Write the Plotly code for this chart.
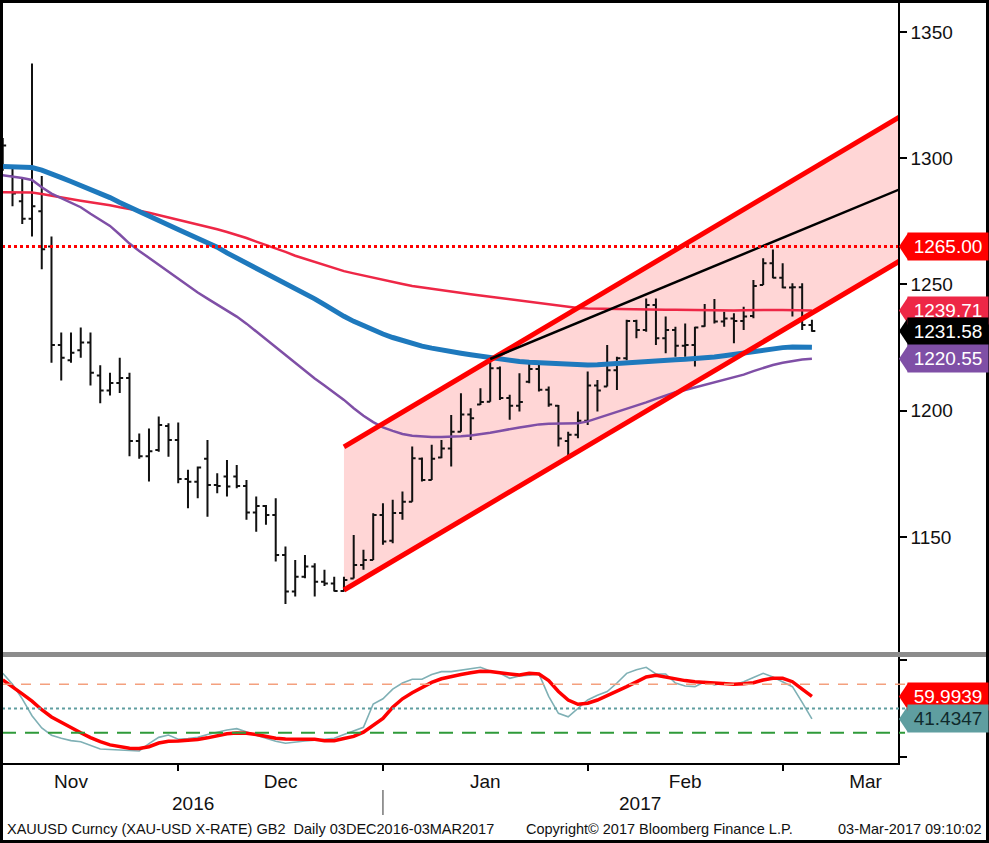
import plotly.graph_objects as go
import pandas as pd

# ---------------- data ----------------
holidays = ["2016-12-26", "2017-01-02"]
dates = [d.strftime("%Y-%m-%d") for d in pd.bdate_range("2016-11-04", "2017-03-03")
         if d.strftime("%Y-%m-%d") not in holidays]
x = list(range(len(dates)))

open_ = [1302, 1293, 1283, 1276, 1279, 1265, 1226, 1220, 1224, 1227, 1214, 1208, 1211, 1213, 1188, 1182, 1184.5, 1194, 1188.4,
         1173, 1171.9, 1181, 1170.6, 1174, 1174, 1170.2, 1159.7, 1162.3, 1158.7, 1142.9, 1128.4, 1134.3, 1138.3, 1132.3, 1131.6, 1128.6, 1133.6, 1138.9, 1140.9, 1158.7,
         1148.5, 1159.5, 1164, 1181, 1172.6, 1181.5, 1185, 1191.7, 1198.5, 1202.5, 1203.6, 1216.8, 1205, 1202, 1211.5, 1216.5, 1208.3, 1202, 1188, 1190.5, 1196,
         1210, 1209.6, 1216, 1220.8, 1235.5, 1232, 1241.9, 1228.7, 1232, 1225.7, 1226, 1233.5, 1239.9, 1235.3, 1236.5, 1235.5, 1237.5, 1249.8, 1258.4, 1252.7,
         1248.8, 1248.9, 1234]
high = [1308, 1297, 1292, 1337.5, 1293, 1269, 1231, 1231, 1233, 1231, 1218, 1215, 1221, 1215, 1191, 1193, 1197.7, 1195, 1195.3,
        1176.6, 1177.9, 1188.4, 1175.2, 1180.5, 1178.5, 1172.6, 1166, 1162.7, 1165.3, 1146.2, 1140.9, 1142.9, 1139.6, 1137, 1134.3, 1134.3, 1150.8, 1144.9, 1159.4, 1163.4,
        1164.7, 1168, 1185.8, 1181.5, 1186.5, 1188.4, 1198.3, 1206.9, 1201, 1208.9, 1219.5, 1217.5, 1206.3, 1214.8, 1219.5, 1219.5, 1209.6, 1202.3, 1191.7, 1199.7, 1215.5,
        1212.2, 1226, 1221.4, 1236, 1236, 1244.5, 1244.5, 1237.3, 1233.3, 1234.6, 1233.3, 1242.3, 1244.3, 1239.2, 1238.6, 1241.2, 1251.8, 1260.4, 1263.9, 1258.4,
        1250.5, 1250.5, 1236]
low = [1295, 1281, 1274, 1269, 1256, 1219, 1212, 1219, 1221, 1210, 1203, 1206, 1207, 1182, 1181, 1172, 1183.8, 1181.8, 1171.3,
       1161.4, 1165.3, 1158, 1167.3, 1166, 1169.3, 1156.8, 1152.1, 1154.8, 1140.3, 1123.5, 1126.4, 1133.7, 1126.4, 1130.6, 1128.4, 1128.4, 1133.6, 1137, 1140.9, 1146.9,
       1147.5, 1156.8, 1164, 1172, 1172.6, 1181.2, 1177.9, 1191.7, 1188.4, 1202.3, 1203.6, 1204.3, 1196.4, 1199.7, 1210.9, 1207.6, 1201.6, 1185.8, 1182.5, 1189.1, 1194.4,
       1199.7, 1209.6, 1208.2, 1220, 1228.7, 1231.3, 1226, 1222.8, 1221.4, 1221.4, 1217.5, 1233.3, 1234.6, 1233.3, 1226.7, 1232, 1236.6, 1249.8, 1252.5, 1248.5,
       1237.3, 1232, 1231.3]
close = [1305, 1286, 1276, 1281, 1264, 1226, 1221, 1223, 1227, 1215, 1208, 1211, 1213, 1188, 1182, 1184, 1194.4, 1188.4, 1173,
         1171.9, 1177.5, 1170.6, 1170.2, 1170, 1170.2, 1159.7, 1162.3, 1158.7, 1142.9, 1128.4, 1134.3, 1138.3, 1132.3, 1131.6, 1128.6, 1133, 1138.9, 1140.9, 1158.7, 1148.2,
         1159.5, 1164, 1181.2, 1172.6, 1181, 1185, 1191.7, 1198.5, 1197, 1203.5, 1216.8, 1205, 1202, 1203.5, 1216.5, 1208.3, 1202.5, 1189, 1190.5, 1196, 1210,
         1208, 1216, 1220.8, 1235.5, 1232, 1241.9, 1228.7, 1232, 1225.7, 1226, 1233, 1239.9, 1235.3, 1236.5, 1235.5, 1237.3, 1249.4, 1258.4, 1252.7, 1248.8,
         1248.9, 1234, 1231.58]

ma_blue = [1296.7, 1296.6, 1296.5, 1296.3, 1295.3, 1294, 1292.3, 1290.8, 1289.3, 1287.8, 1286.2, 1284.4, 1282.5, 1280.8, 1279.2, 1277.4, 1275.6, 1273.6, 1271.8,
           1270, 1268.6, 1266.7, 1264.8, 1262.5, 1260.5, 1258.7, 1256.8, 1254.8, 1252.8, 1250.8, 1248.8, 1246.6, 1244.3, 1242, 1239.6, 1237.4, 1235.4, 1233.6, 1232, 1230.4,
           1229, 1227.8, 1226.6, 1225.6, 1224.8, 1224, 1223.4, 1222.8, 1222.2, 1221.6, 1221.1, 1220.6, 1220, 1219.5, 1219.2, 1219, 1218.8, 1218.5, 1218.3, 1218.1, 1218.1,
           1218.2, 1218.5, 1218.8, 1219, 1219.3, 1219.6, 1219.8, 1220, 1220.2, 1220.4, 1220.6, 1220.9, 1221.3, 1221.8, 1222.4, 1222.9, 1223.4, 1224, 1224.5, 1225,
           1225.2, 1225.2, 1225.1]
ma_red = [1286.5, 1286.5, 1286.5, 1286.4, 1285.8, 1285.1, 1284.4, 1283.8, 1283.2, 1282.6, 1282.1, 1281.4, 1280.6, 1280, 1279.2, 1278.4, 1277.5, 1276.5, 1275.6,
          1274.6, 1273.7, 1272.8, 1271.9, 1270.8, 1269.7, 1268.4, 1267, 1265.7, 1264.3, 1262.9, 1261.4, 1260.2, 1259, 1257.6, 1256.3, 1255.3, 1254.4, 1253.5, 1252.6, 1251.8,
          1251, 1250.2, 1249.4, 1248.8, 1248.2, 1247.6, 1247.1, 1246.6, 1246.1, 1245.6, 1245.1, 1244.5, 1244, 1243.6, 1243.1, 1242.6, 1242.1, 1241.6, 1241.1, 1240.7, 1240.5,
          1240.4, 1240.3, 1240.2, 1240.2, 1240.2, 1240.2, 1240.1, 1240, 1240, 1239.9, 1239.8, 1239.7, 1239.6, 1239.6, 1239.7, 1239.8, 1239.9, 1239.9, 1239.9, 1239.9,
          1239.8, 1239.8, 1239.71]
ma_purple = [1293.3, 1292.8, 1292.2, 1291.4, 1288.5, 1286, 1284.3, 1282.5, 1280.6, 1278, 1275.6, 1273.2, 1269.8, 1266.2, 1263.3, 1260.5, 1257.8, 1255, 1252.2,
             1249.4, 1246.8, 1244.4, 1242, 1239.8, 1237.3, 1234.5, 1231.4, 1228.2, 1225, 1221.8, 1218.7, 1215.6, 1212.8, 1210, 1207.2, 1204.3, 1201, 1198, 1195.5, 1193.4,
             1192, 1190.8, 1190.1, 1189.8, 1189.6, 1189.6, 1189.7, 1189.9, 1190.2, 1190.7, 1191.3, 1192, 1192.8, 1193.4, 1194, 1194.6, 1194.8, 1194.8, 1194.8, 1195, 1195.8,
             1197, 1198.3, 1199.6, 1200.8, 1202, 1203.3, 1204.7, 1206.1, 1207.3, 1208.2, 1209.2, 1210.2, 1211.1, 1212.1, 1213, 1214.3, 1215.7, 1217, 1218.1, 1219,
             1219.7, 1220.3, 1220.55]

stoch_fast = [79, 70, 58, 44, 34, 28, 25.4, 23.5, 22.6, 19.5, 16.6, 16.2, 16, 15.8, 15, 21, 26.2, 28.1, 24.6,
              25.2, 26.2, 28.5, 30.5, 32.3, 33.4, 31, 28, 25.5, 23, 21.3, 22.5, 23.2, 23.8, 24.4, 25.5, 28.5, 31.5, 34.5, 53.7, 58,
              66, 71, 74.1, 74.1, 78, 80.4, 80.4, 81.5, 82.5, 84, 81, 79, 74.9, 76.9, 77.5, 78.5, 60, 46, 43.2, 50, 57,
              61, 64, 71, 79, 82, 84, 78.5, 78.5, 71, 68.6, 68, 72.1, 69.4, 71.3, 69.4, 72.1, 75.5, 79, 76, 72,
              68, 55, 41.4347]
stoch_slow = [73.5, 68, 62, 56, 49, 43, 38.5, 34, 30, 26, 22.6, 20, 18.5, 17.2, 17, 18.5, 21.5, 23, 23.2,
              23.5, 24.5, 25.8, 27.5, 29.2, 29.8, 29.6, 28.5, 26.8, 25.5, 24.8, 24.6, 24.6, 24.6, 23.5, 23.5, 25.2, 27, 30.5, 36, 41.9,
              51, 58, 63, 67.5, 71.5, 74.5, 76.5, 78, 79.5, 80.8, 80.5, 79.8, 78.5, 77.6, 79, 78.5, 73, 64, 57, 53.5, 54.3,
              57, 60.5, 64, 68, 72, 76, 77.4, 76, 74.1, 73, 72.1, 71.5, 71.3, 70.5, 70, 70.5, 71.3, 73.5, 74.9, 74.9,
              72.1, 66, 59.9939]

channel_x = [35, 92]
channel_lower = [1129.0, 1259.3]
channel_upper = [1185.7, 1316.4]
trend_x = [50, 92]
trend_y = [1220.5, 1287.7]
resistance = 1265.0
stoch_levels = [70, 50, 30]

month_names = ["Nov", "Dec", "Jan", "Feb", "Mar"]
month_label_pos = [7, 28.5, 49.5, 70, 88.5]
month_ends = [i for i in range(len(dates) - 1) if dates[i][5:7] != dates[i + 1][5:7]]

# ---------------- geometry ----------------
W, H = 989, 843
ML, MR, MT, MB = 2, 91, 2, 80
PH = H - MT - MB
PW = W - ML - MR


def py(p):
    return (H - MB - p) / PH


def px(p):
    return (p - ML) / PW


FONT = "Liberation Sans"

fig = go.Figure()

# moving averages
fig.add_trace(go.Scatter(x=x, y=ma_red, mode="lines", line=dict(color="#ee2746", width=2.5), showlegend=False))
fig.add_trace(go.Scatter(x=x, y=ma_purple, mode="lines", line=dict(color="#7f4fa6", width=2.5), showlegend=False))
fig.add_trace(go.Scatter(x=x, y=ma_blue, mode="lines", line=dict(color="#1e79bd", width=5), showlegend=False))
# channel lines
fig.add_trace(go.Scatter(x=channel_x, y=channel_upper, mode="lines", line=dict(color="#ff0000", width=5), showlegend=False))
fig.add_trace(go.Scatter(x=channel_x, y=channel_lower, mode="lines", line=dict(color="#ff0000", width=5), showlegend=False))
fig.add_trace(go.Scatter(x=trend_x, y=trend_y, mode="lines", line=dict(color="#000000", width=2.5), showlegend=False))
# bars
fig.add_trace(go.Ohlc(x=x, open=open_, high=high, low=low, close=close,
                      increasing=dict(line=dict(color="#111111", width=2)),
                      decreasing=dict(line=dict(color="#111111", width=2)),
                      tickwidth=0.35, showlegend=False, hoverinfo="skip"))
# stochastics
fig.add_trace(go.Scatter(x=x, y=stoch_fast, yaxis="y2", mode="lines",
                         line=dict(color="#7fb0b5", width=1.6), showlegend=False))
fig.add_trace(go.Scatter(x=x, y=stoch_slow, yaxis="y2", mode="lines",
                         line=dict(color="#ff0000", width=3.5), showlegend=False))

shapes = []
annotations = []

# channel fill (below traces so the bars stay visible)
chan_path = "M {0},{1} L {2},{3} L {2},{4} L {0},{5} Z".format(
    channel_x[0], channel_lower[0], channel_x[1], channel_lower[1], channel_upper[1], channel_upper[0])
shapes.append(dict(type="path", xref="x", yref="y", path=chan_path, fillcolor="#ffd6d6",
                   line=dict(width=0), layer="below"))

# resistance dotted line
shapes.append(dict(type="line", xref="paper", yref="y", x0=0, x1=1, y0=resistance, y1=resistance,
                   line=dict(color="#ff0000", width=3, dash="dot")))
# stoch level lines
lvl_styles = [("#f4a07e", 1.6, "10px,9px"), ("#5f9ea0", 1.8, "dot"), ("#2f9a3a", 2.2, "14px,9px")]
for lv, (c, w, d) in zip(stoch_levels, lvl_styles):
    shapes.append(dict(type="line", xref="paper", yref="y2", x0=0, x1=1 + 7 / PW, y0=lv, y1=lv,
                       line=dict(color=c, width=w, dash=d)))
# grey separator
shapes.append(dict(type="line", xref="paper", yref="paper", x0=px(0), x1=px(W), y0=py(654.5), y1=py(654.5),
                   line=dict(color="#8c8c8c", width=5)))
# year separator
shapes.append(dict(type="line", xref="x", yref="paper", x0=month_ends[1], x1=month_ends[1],
                   y0=py(790), y1=py(815), line=dict(color="#333333", width=1)))
# outer frame
shapes.append(dict(type="rect", xref="paper", yref="paper", x0=px(1.5), x1=px(W - 1.5), y0=py(H - 1.5), y1=py(1.5),
                   line=dict(color="#000000", width=3)))

# value tags
main_tags = [
    (ma_red[-1], "#ee2746", "white", "{:.2f}", "y"),
    (resistance, "#ff0000", "white", "{:.2f}", "y"),
    (close[-1], "#000000", "white", "{:.2f}", "y"),
    (ma_purple[-1], "#7f4fa6", "white", "{:.2f}", "y"),
    (stoch_slow[-1], "#ff0000", "white", "{:.4f}", "y2"),
    (stoch_fast[-1], "#5f9ea0", "#102a2c", "{:.4f}", "y2"),
]
for v, bg, fc, fmt, yr in main_tags:
    shapes.append(dict(type="path", xref="paper", yref=yr, xsizemode="pixel", ysizemode="pixel",
                       xanchor=1, yanchor=v, path="M 1,0 L 10,13.5 L 10,-13.5 Z",
                       fillcolor=bg, line=dict(width=0)))
    annotations.append(dict(xref="paper", yref=yr, x=1, y=v, xanchor="left", yanchor="middle", xshift=9,
                            text=fmt.format(v), showarrow=False, bgcolor=bg, width=78, height=25,
                            borderpad=1, align="center", font=dict(family=FONT, size=19, color=fc)))

# year labels
for yr_txt, xpos in [("2016", 19.5), ("2017", 65.4)]:
    annotations.append(dict(xref="x", yref="paper", x=xpos, y=py(803), text=yr_txt, showarrow=False,
                            xanchor="center", yanchor="middle", font=dict(family=FONT, size=19, color="#111111")))
# footer
footer_font = dict(family=FONT, size=14.5, color="#111111")
annotations.append(dict(xref="paper", yref="paper", x=px(5), y=py(829), xanchor="left", yanchor="middle",
                        text="XAUUSD Curncy (XAU-USD X-RATE) GB2  Daily 03DEC2016-03MAR2017",
                        showarrow=False, font=footer_font))
annotations.append(dict(xref="paper", yref="paper", x=px(524), y=py(829), xanchor="left", yanchor="middle",
                        text="Copyright\u00a9 2017 Bloomberg Finance L.P.", showarrow=False, font=footer_font))
annotations.append(dict(xref="paper", yref="paper", x=px(984), y=py(829), xanchor="right", yanchor="middle",
                        text="03-Mar-2017 09:10:02", showarrow=False, font=footer_font))

fig.update_layout(
    width=W, height=H,
    margin=dict(l=ML, r=MR, t=MT, b=MB, pad=0),
    paper_bgcolor="white", plot_bgcolor="white",
    showlegend=False,
    font=dict(family=FONT, size=19, color="#111111"),
    xaxis=dict(range=[(0 - 2.7) / 9.75 + 0.2, 91.83], anchor="y2", showgrid=False, zeroline=False,
               showline=True, linecolor="#000000", linewidth=2,
               tickmode="array", tickvals=month_label_pos, ticktext=month_names, ticks="",
               tickfont=dict(family=FONT, size=19, color="#111111"),
               minor=dict(tickmode="array", tickvals=month_ends, ticks="outside", ticklen=6,
                          tickwidth=2, tickcolor="#000000"),
               rangeslider=dict(visible=False), fixedrange=True),
    yaxis=dict(domain=[py(652), 1], range=[1104.45, 1361.88], side="right", anchor="x",
               showgrid=False, zeroline=False, showline=True, linecolor="#000000", linewidth=1.5,
               tickmode="array", tickvals=[1150, 1200, 1250, 1300, 1350], ticks="outside",
               ticklen=7, tickwidth=2, tickcolor="#000000",
               tickfont=dict(family=FONT, size=19, color="#111111")),
    yaxis2=dict(domain=[0, py(657)], range=[5.05, 92.47], side="right", anchor="x",
                showgrid=False, zeroline=False, showline=True, linecolor="#000000", linewidth=1.5,
                tickmode="array", tickvals=[10, 90], ticktext=["", ""], ticks="outside",
                ticklen=7, tickwidth=2, tickcolor="#000000"),
    shapes=shapes,
    annotations=annotations,
)

fig.write_html("out.html")
